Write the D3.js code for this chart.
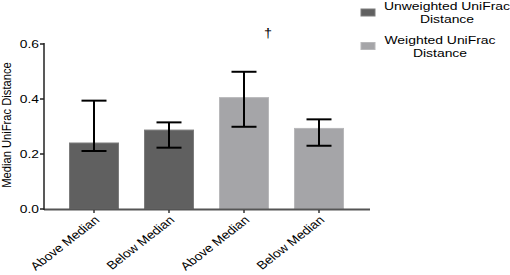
<!DOCTYPE html>
<html>
<head>
<meta charset="utf-8">
<script src="https://cdn.jsdelivr.net/npm/d3@7"></script>
<style>
  body { margin: 0; background: #fff; }
  svg { display: block; }
  text { font-family: "Liberation Sans", Arial, sans-serif; fill: #000; }
</style>
</head>
<body>
<div id="chart"></div>
<script>
const categories = ["Above Median", "Below Median", "Above Median", "Below Median"];
const groups = ["unweighted", "unweighted", "weighted", "weighted"];
const medians = [0.24, 0.287, 0.405, 0.293];
const errLow = [0.211, 0.223, 0.299, 0.230];
const errHigh = [0.394, 0.315, 0.499, 0.326];
const yTicks = [0.0, 0.2, 0.4, 0.6];
const legendLabels = [["Unweighted UniFrac", "Distance"], ["Weighted UniFrac", "Distance"]];
const daggerIndex = 2;

const width = 510, height = 275;
const stretch = 1.2; // the picture is a bit wide for its fonts

const fills = { unweighted: "#606060", weighted: "#a5a5a8" };
const edges = { unweighted: "#7c7c7c", weighted: "#b8b8ba" };

const svg = d3.select("#chart").append("svg")
  .attr("width", width)
  .attr("height", height);

const x = d3.scaleBand()
  .domain(d3.range(categories.length))
  .range([56.5, 356.5])
  .paddingInner(1 / 3)
  .paddingOuter(1 / 6);

const y = d3.scaleLinear().domain([0, 0.6]).range([209, 44]);

// bars
svg.selectAll("rect.bar")
  .data(medians)
  .enter()
  .append("rect")
  .attr("class", "bar")
  .attr("x", (d, i) => x(i) + 0.5)
  .attr("y", d => y(d))
  .attr("width", x.bandwidth() - 1)
  .attr("height", d => y(0) - y(d))
  .attr("fill", (d, i) => fills[groups[i]])
  .attr("stroke", (d, i) => edges[groups[i]])
  .attr("stroke-width", 1);

// error bars
const errs = svg.append("g").attr("stroke", "#000").attr("stroke-width", 2);
medians.forEach((d, i) => {
  const cx = x(i) + x.bandwidth() / 2;
  const half = x.bandwidth() / 4;
  errs.append("line").attr("x1", cx).attr("x2", cx).attr("y1", y(errLow[i])).attr("y2", y(errHigh[i]));
  errs.append("line").attr("x1", cx - half).attr("x2", cx + half).attr("y1", y(errHigh[i])).attr("y2", y(errHigh[i]));
  errs.append("line").attr("x1", cx - half).attr("x2", cx + half).attr("y1", y(errLow[i])).attr("y2", y(errLow[i]));
});

// x axis
const xAxis = svg.append("g").attr("transform", `translate(0,${y(0)})`);
xAxis.append("line")
  .attr("x1", 44).attr("x2", 370)
  .attr("y1", 0.5).attr("y2", 0.5)
  .attr("stroke", "#555").attr("stroke-width", 2);
categories.forEach((c, i) => {
  const cx = x(i) + x.bandwidth() / 2;
  xAxis.append("line")
    .attr("x1", cx).attr("x2", cx)
    .attr("y1", 1).attr("y2", 4)
    .attr("stroke", "#333").attr("stroke-width", 1.5);
  xAxis.append("text")
    .attr("transform", `translate(${cx + 3},9) scale(${stretch},1) rotate(-43)`)
    .attr("text-anchor", "end")
    .attr("dy", "0.35em")
    .style("font-size", "11.5px")
    .text(c);
});

// y axis
const yAxis = svg.append("g").attr("transform", "translate(44,0)");
yAxis.append("line")
  .attr("x1", 0).attr("x2", 0)
  .attr("y1", y(0.6) - 1).attr("y2", y(0) + 1)
  .attr("stroke", "#222").attr("stroke-width", 1.5);
yTicks.forEach(t => {
  yAxis.append("line")
    .attr("x1", -4).attr("x2", 0)
    .attr("y1", y(t)).attr("y2", y(t))
    .attr("stroke", "#222").attr("stroke-width", 1.5);
  yAxis.append("text")
    .attr("transform", `translate(-5,${y(t)}) scale(${stretch},1)`)
    .attr("text-anchor", "end")
    .attr("dy", "0.35em")
    .style("font-size", "11.5px")
    .text(t.toFixed(1));
});

svg.append("text")
  .attr("transform", `translate(11,125) scale(${stretch},1) rotate(-90)`)
  .attr("text-anchor", "middle")
  .style("font-size", "11.2px")
  .text("Median UniFrac Distance");

// dagger over the weighted above-median bar
svg.append("text")
  .attr("transform", `translate(${x(daggerIndex) + x.bandwidth() / 2 + 24},37) scale(${stretch},1)`)
  .attr("text-anchor", "middle")
  .style("font-size", "12px")
  .text("\u2020");

// legend
const legendKeys = ["unweighted", "weighted"];
const legendY = [12.5, 46];
const legendTextX = [447, 440];
legendKeys.forEach((k, i) => {
  svg.append("rect")
    .attr("x", 361).attr("y", legendY[i] - 3.5)
    .attr("width", 14).attr("height", 7)
    .attr("fill", fills[k])
    .attr("stroke", edges[k]).attr("stroke-width", 1);
  legendLabels[i].forEach((line, j) => {
    svg.append("text")
      .attr("transform", `translate(${legendTextX[i]},${legendY[i] - 6.5 + j * 13}) scale(${stretch},1)`)
      .attr("text-anchor", "middle")
      .attr("dy", "0.35em")
      .style("font-size", "11.6px")
      .text(line);
  });
});
</script>
</body>
</html>
